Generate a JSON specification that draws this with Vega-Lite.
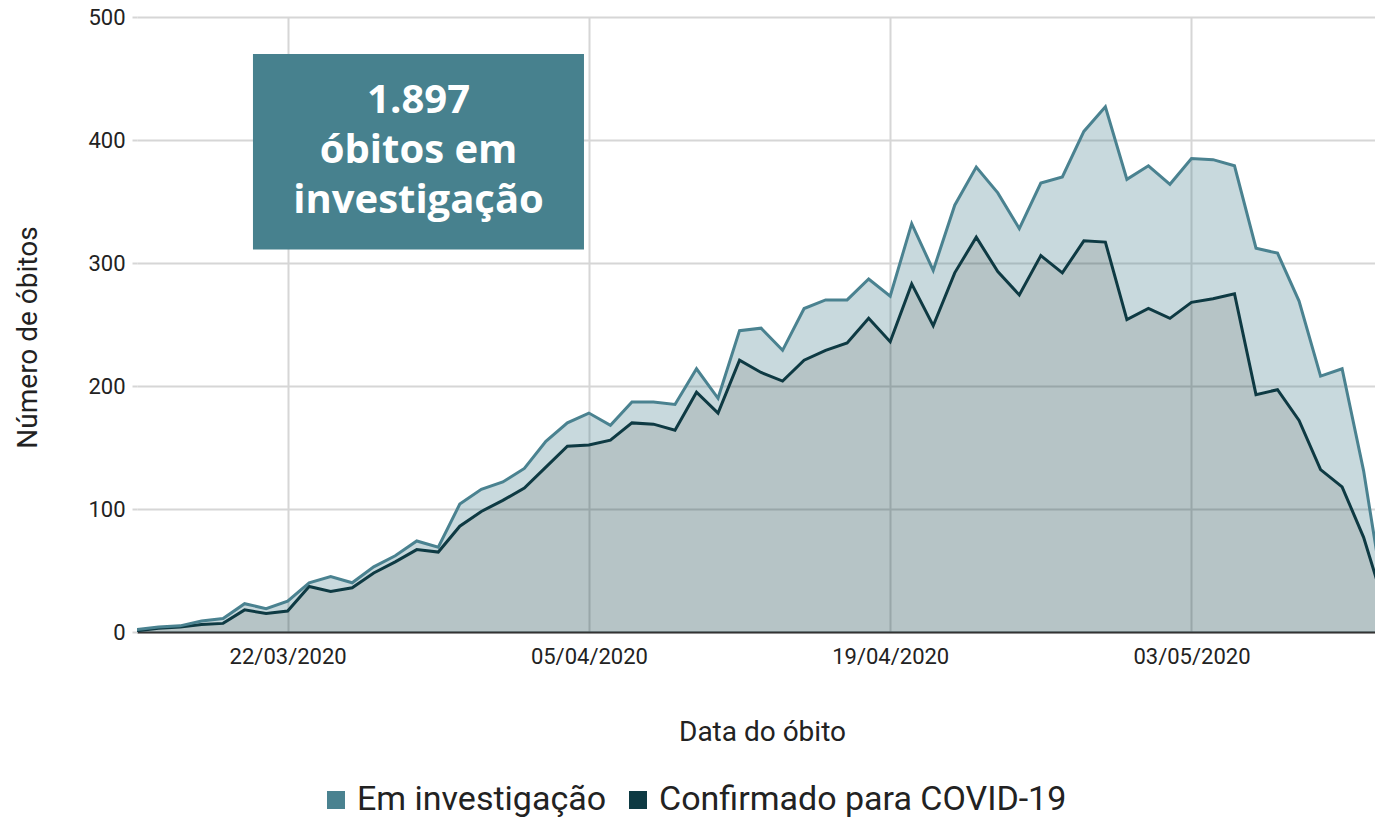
{
  "$schema": "https://vega.github.io/schema/vega-lite/v6.json",
  "width": 1238,
  "height": 615,
  "autosize": {"type": "none"},
  "padding": {"left": 137, "top": 17, "right": 0, "bottom": 185},
  "background": "white",
  "config": {
    "font": "Roboto",
    "view": {"stroke": null},
    "axis": {"labelFont": "Roboto", "titleFont": "Roboto", "labelColor": "#222222", "titleColor": "#222222", "titleFontWeight": "normal"},
    "legend": {"labelFont": "Roboto"}
  },
  "data": {
    "values": [
      {"data": "2020-03-15", "serie": "Confirmado para COVID-19", "valor": 1}, {"data": "2020-03-15", "serie": "Em investigação", "valor": 1},
      {"data": "2020-03-16", "serie": "Confirmado para COVID-19", "valor": 3}, {"data": "2020-03-16", "serie": "Em investigação", "valor": 1},
      {"data": "2020-03-17", "serie": "Confirmado para COVID-19", "valor": 4}, {"data": "2020-03-17", "serie": "Em investigação", "valor": 1},
      {"data": "2020-03-18", "serie": "Confirmado para COVID-19", "valor": 6}, {"data": "2020-03-18", "serie": "Em investigação", "valor": 3},
      {"data": "2020-03-19", "serie": "Confirmado para COVID-19", "valor": 7}, {"data": "2020-03-19", "serie": "Em investigação", "valor": 4},
      {"data": "2020-03-20", "serie": "Confirmado para COVID-19", "valor": 18}, {"data": "2020-03-20", "serie": "Em investigação", "valor": 5},
      {"data": "2020-03-21", "serie": "Confirmado para COVID-19", "valor": 15}, {"data": "2020-03-21", "serie": "Em investigação", "valor": 4},
      {"data": "2020-03-22", "serie": "Confirmado para COVID-19", "valor": 17}, {"data": "2020-03-22", "serie": "Em investigação", "valor": 8},
      {"data": "2020-03-23", "serie": "Confirmado para COVID-19", "valor": 37}, {"data": "2020-03-23", "serie": "Em investigação", "valor": 3},
      {"data": "2020-03-24", "serie": "Confirmado para COVID-19", "valor": 33}, {"data": "2020-03-24", "serie": "Em investigação", "valor": 12},
      {"data": "2020-03-25", "serie": "Confirmado para COVID-19", "valor": 36}, {"data": "2020-03-25", "serie": "Em investigação", "valor": 4},
      {"data": "2020-03-26", "serie": "Confirmado para COVID-19", "valor": 48}, {"data": "2020-03-26", "serie": "Em investigação", "valor": 5},
      {"data": "2020-03-27", "serie": "Confirmado para COVID-19", "valor": 57}, {"data": "2020-03-27", "serie": "Em investigação", "valor": 5},
      {"data": "2020-03-28", "serie": "Confirmado para COVID-19", "valor": 67}, {"data": "2020-03-28", "serie": "Em investigação", "valor": 7},
      {"data": "2020-03-29", "serie": "Confirmado para COVID-19", "valor": 65}, {"data": "2020-03-29", "serie": "Em investigação", "valor": 4},
      {"data": "2020-03-30", "serie": "Confirmado para COVID-19", "valor": 86}, {"data": "2020-03-30", "serie": "Em investigação", "valor": 18},
      {"data": "2020-03-31", "serie": "Confirmado para COVID-19", "valor": 98}, {"data": "2020-03-31", "serie": "Em investigação", "valor": 18},
      {"data": "2020-04-01", "serie": "Confirmado para COVID-19", "valor": 107}, {"data": "2020-04-01", "serie": "Em investigação", "valor": 15},
      {"data": "2020-04-02", "serie": "Confirmado para COVID-19", "valor": 117}, {"data": "2020-04-02", "serie": "Em investigação", "valor": 16},
      {"data": "2020-04-03", "serie": "Confirmado para COVID-19", "valor": 134}, {"data": "2020-04-03", "serie": "Em investigação", "valor": 21},
      {"data": "2020-04-04", "serie": "Confirmado para COVID-19", "valor": 151}, {"data": "2020-04-04", "serie": "Em investigação", "valor": 19},
      {"data": "2020-04-05", "serie": "Confirmado para COVID-19", "valor": 152}, {"data": "2020-04-05", "serie": "Em investigação", "valor": 26},
      {"data": "2020-04-06", "serie": "Confirmado para COVID-19", "valor": 156}, {"data": "2020-04-06", "serie": "Em investigação", "valor": 12},
      {"data": "2020-04-07", "serie": "Confirmado para COVID-19", "valor": 170}, {"data": "2020-04-07", "serie": "Em investigação", "valor": 17},
      {"data": "2020-04-08", "serie": "Confirmado para COVID-19", "valor": 169}, {"data": "2020-04-08", "serie": "Em investigação", "valor": 18},
      {"data": "2020-04-09", "serie": "Confirmado para COVID-19", "valor": 164}, {"data": "2020-04-09", "serie": "Em investigação", "valor": 21},
      {"data": "2020-04-10", "serie": "Confirmado para COVID-19", "valor": 195}, {"data": "2020-04-10", "serie": "Em investigação", "valor": 19},
      {"data": "2020-04-11", "serie": "Confirmado para COVID-19", "valor": 178}, {"data": "2020-04-11", "serie": "Em investigação", "valor": 12},
      {"data": "2020-04-12", "serie": "Confirmado para COVID-19", "valor": 221}, {"data": "2020-04-12", "serie": "Em investigação", "valor": 24},
      {"data": "2020-04-13", "serie": "Confirmado para COVID-19", "valor": 211}, {"data": "2020-04-13", "serie": "Em investigação", "valor": 36},
      {"data": "2020-04-14", "serie": "Confirmado para COVID-19", "valor": 204}, {"data": "2020-04-14", "serie": "Em investigação", "valor": 25},
      {"data": "2020-04-15", "serie": "Confirmado para COVID-19", "valor": 221}, {"data": "2020-04-15", "serie": "Em investigação", "valor": 42},
      {"data": "2020-04-16", "serie": "Confirmado para COVID-19", "valor": 229}, {"data": "2020-04-16", "serie": "Em investigação", "valor": 41},
      {"data": "2020-04-17", "serie": "Confirmado para COVID-19", "valor": 235}, {"data": "2020-04-17", "serie": "Em investigação", "valor": 35},
      {"data": "2020-04-18", "serie": "Confirmado para COVID-19", "valor": 255}, {"data": "2020-04-18", "serie": "Em investigação", "valor": 32},
      {"data": "2020-04-19", "serie": "Confirmado para COVID-19", "valor": 236}, {"data": "2020-04-19", "serie": "Em investigação", "valor": 37},
      {"data": "2020-04-20", "serie": "Confirmado para COVID-19", "valor": 283}, {"data": "2020-04-20", "serie": "Em investigação", "valor": 49},
      {"data": "2020-04-21", "serie": "Confirmado para COVID-19", "valor": 249}, {"data": "2020-04-21", "serie": "Em investigação", "valor": 45},
      {"data": "2020-04-22", "serie": "Confirmado para COVID-19", "valor": 292}, {"data": "2020-04-22", "serie": "Em investigação", "valor": 55},
      {"data": "2020-04-23", "serie": "Confirmado para COVID-19", "valor": 321}, {"data": "2020-04-23", "serie": "Em investigação", "valor": 57},
      {"data": "2020-04-24", "serie": "Confirmado para COVID-19", "valor": 293}, {"data": "2020-04-24", "serie": "Em investigação", "valor": 64},
      {"data": "2020-04-25", "serie": "Confirmado para COVID-19", "valor": 274}, {"data": "2020-04-25", "serie": "Em investigação", "valor": 54},
      {"data": "2020-04-26", "serie": "Confirmado para COVID-19", "valor": 306}, {"data": "2020-04-26", "serie": "Em investigação", "valor": 59},
      {"data": "2020-04-27", "serie": "Confirmado para COVID-19", "valor": 292}, {"data": "2020-04-27", "serie": "Em investigação", "valor": 78},
      {"data": "2020-04-28", "serie": "Confirmado para COVID-19", "valor": 318}, {"data": "2020-04-28", "serie": "Em investigação", "valor": 89},
      {"data": "2020-04-29", "serie": "Confirmado para COVID-19", "valor": 317}, {"data": "2020-04-29", "serie": "Em investigação", "valor": 110},
      {"data": "2020-04-30", "serie": "Confirmado para COVID-19", "valor": 254}, {"data": "2020-04-30", "serie": "Em investigação", "valor": 114},
      {"data": "2020-05-01", "serie": "Confirmado para COVID-19", "valor": 263}, {"data": "2020-05-01", "serie": "Em investigação", "valor": 116},
      {"data": "2020-05-02", "serie": "Confirmado para COVID-19", "valor": 255}, {"data": "2020-05-02", "serie": "Em investigação", "valor": 109},
      {"data": "2020-05-03", "serie": "Confirmado para COVID-19", "valor": 268}, {"data": "2020-05-03", "serie": "Em investigação", "valor": 117},
      {"data": "2020-05-04", "serie": "Confirmado para COVID-19", "valor": 271}, {"data": "2020-05-04", "serie": "Em investigação", "valor": 113},
      {"data": "2020-05-05", "serie": "Confirmado para COVID-19", "valor": 275}, {"data": "2020-05-05", "serie": "Em investigação", "valor": 104},
      {"data": "2020-05-06", "serie": "Confirmado para COVID-19", "valor": 193}, {"data": "2020-05-06", "serie": "Em investigação", "valor": 119},
      {"data": "2020-05-07", "serie": "Confirmado para COVID-19", "valor": 197}, {"data": "2020-05-07", "serie": "Em investigação", "valor": 111},
      {"data": "2020-05-08", "serie": "Confirmado para COVID-19", "valor": 172}, {"data": "2020-05-08", "serie": "Em investigação", "valor": 97},
      {"data": "2020-05-09", "serie": "Confirmado para COVID-19", "valor": 132}, {"data": "2020-05-09", "serie": "Em investigação", "valor": 76},
      {"data": "2020-05-10", "serie": "Confirmado para COVID-19", "valor": 118}, {"data": "2020-05-10", "serie": "Em investigação", "valor": 96},
      {"data": "2020-05-11", "serie": "Confirmado para COVID-19", "valor": 77}, {"data": "2020-05-11", "serie": "Em investigação", "valor": 54},
      {"data": "2020-05-12", "serie": "Confirmado para COVID-19", "valor": 20}, {"data": "2020-05-12", "serie": "Em investigação", "valor": 2}
    ]
  },
  "layer": [
    {
      "transform": [{"stack": "valor", "groupby": ["data"], "sort": [{"field": "serie", "order": "ascending"}], "as": ["v0", "v1"]}],
      "mark": {"type": "area", "opacity": 0.3, "clip": true, "interpolate": "linear"},
      "encoding": {
        "x": {
          "field": "data", "type": "temporal",
          "scale": {"type": "utc", "domain": [{"year": 2020, "month": 3, "date": 15, "utc": true}, {"year": 2020, "month": 5, "date": 11, "hours": 12, "minutes": 42, "utc": true}]},
          "axis": {
            "title": "Data do óbito",
            "values": [{"year": 2020, "month": 3, "date": 22, "utc": true}, {"year": 2020, "month": 4, "date": 5, "utc": true}, {"year": 2020, "month": 4, "date": 19, "utc": true}, {"year": 2020, "month": 5, "date": 3, "utc": true}],
            "labelExpr": "utcFormat(datum.value, '%d/%m/%Y')",
            "grid": true, "gridColor": "#d6d6d6", "gridWidth": 2,
            "ticks": false, "domainColor": "#333333", "domainWidth": 2,
            "labelFontSize": 22, "labelPadding": 14, "labelFlush": false,
            "titleFontSize": 28, "titlePadding": 51, "titleX": 625
          }
        },
        "y": {
          "field": "v1", "type": "quantitative",
          "scale": {"domain": [0, 500]},
          "axis": {
            "title": "Número de óbitos",
            "values": [0, 100, 200, 300, 400, 500],
            "grid": true, "gridColor": "#d6d6d6", "gridWidth": 2,
            "tickColor": "#d6d6d6", "tickSize": 5, "tickWidth": 2,
            "domain": false, "labelFontSize": 22, "labelPadding": 7,
            "titleFontSize": 28, "titlePadding": 45, "titleY": 320
          }
        },
        "y2": {"field": "v0"},
        "color": {
          "field": "serie", "type": "nominal",
          "scale": {"domain": ["Em investigação", "Confirmado para COVID-19"], "range": ["#4a8290", "#0e3a43"]},
          "legend": {
            "title": null, "orient": "none", "legendX": 182, "legendY": 766, "direction": "horizontal",
            "symbolType": "square", "symbolSize": 324, "symbolOpacity": 1, "symbolStrokeWidth": 0,
            "labelFontSize": 34, "labelColor": "#222222", "labelOffset": 4, "labelLimit": 0, "columnPadding": 14,
            "encode": {"symbols": {"update": {"fill": {"scale": "color", "field": "value"}, "fillOpacity": {"value": 1}, "opacity": {"value": 1}, "stroke": {"value": "transparent"}}}}
          }
        }
      }
    },
    {
      "transform": [{"stack": "valor", "groupby": ["data"], "sort": [{"field": "serie", "order": "ascending"}], "as": ["v0", "v1"]}],
      "mark": {"type": "line", "strokeWidth": 3, "clip": true, "interpolate": "linear"},
      "encoding": {
        "x": {"field": "data", "type": "temporal"},
        "y": {"field": "v1", "type": "quantitative"},
        "color": {"field": "serie", "type": "nominal"}
      }
    },
    {
      "data": {"values": [{}]},
      "mark": {"type": "rect", "color": "#47818e"},
      "encoding": {
        "x": {"datum": {"year": 2020, "month": 3, "date": 20, "hours": 9, "minutes": 20, "utc": true}, "type": "temporal"},
        "x2": {"datum": {"year": 2020, "month": 4, "date": 4, "hours": 18, "minutes": 30, "utc": true}},
        "y": {"datum": 470, "type": "quantitative"},
        "y2": {"datum": 311}
      }
    },
    {
      "data": {"values": [{}]},
      "mark": {"type": "text", "font": "Open Sans", "fontWeight": "bold", "fontSize": 40, "color": "white", "lineHeight": 50, "align": "center", "baseline": "middle"},
      "encoding": {
        "x": {"datum": {"year": 2020, "month": 3, "date": 28, "hours": 2, "utc": true}, "type": "temporal"},
        "y": {"datum": 432, "type": "quantitative"},
        "text": {"value": ["1.897", "óbitos em", "investigação"]}
      }
    }
  ]
}
